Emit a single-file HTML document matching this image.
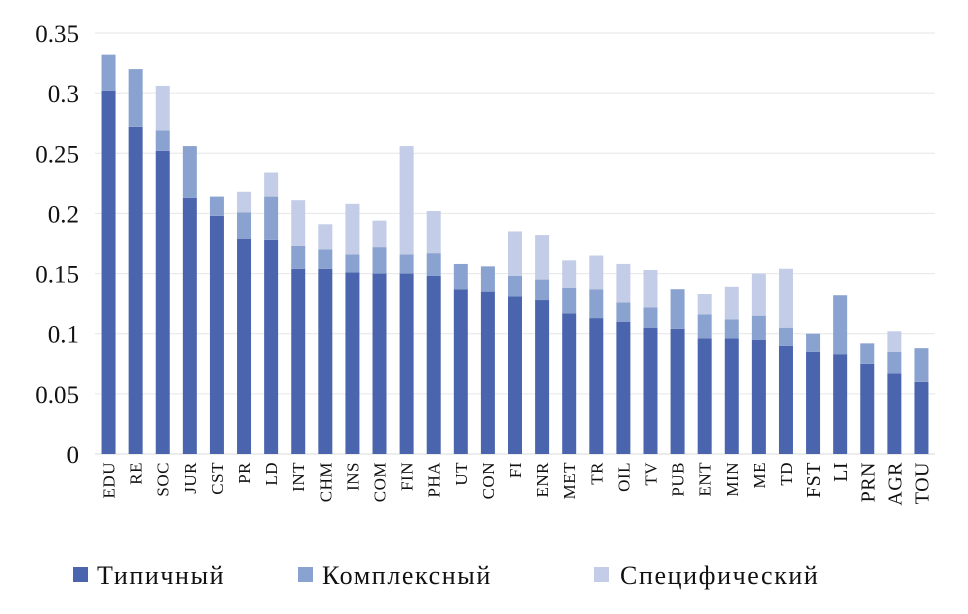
<!DOCTYPE html>
<html><head><meta charset="utf-8"><style>
body{margin:0;background:#fff;}
svg text{font-family:"Liberation Serif","DejaVu Serif",serif;fill:#111;}
</style></head><body>
<svg id="chart" width="968" height="609" xmlns="http://www.w3.org/2000/svg">
<g id="grid"></g>
<g id="yticks"></g>
<g id="bars"></g>
<g id="xticks"></g>
<g id="legend">
<rect x="73" y="567" width="15" height="15" fill="#4a65ad"/>
<text x="97" y="584" font-size="26" letter-spacing="1.6">Типичный</text>
<rect x="298" y="567" width="15" height="15" fill="#8aa2cf"/>
<text x="322" y="584" font-size="26" letter-spacing="1.6">Комплексный</text>
<rect x="594" y="567" width="15" height="15" fill="#c3cde7"/>
<text x="620" y="584" font-size="26" letter-spacing="1.6">Специфический</text>
</g>
</svg>
<script>
const categories=["EDU","RE","SOC","JUR","CST","PR","LD","INT","CHM","INS","COM","FIN","PHA","UT","CON","FI","ENR","MET","TR","OIL","TV","PUB","ENT","MIN","ME","TD","FST","LI","PRN","AGR","TOU"];
const typical=[0.302,0.272,0.252,0.213,0.198,0.179,0.178,0.154,0.154,0.151,0.150,0.150,0.148,0.137,0.135,0.131,0.128,0.117,0.113,0.110,0.105,0.104,0.096,0.096,0.095,0.090,0.085,0.083,0.075,0.067,0.060];
const complex=[0.030,0.048,0.017,0.043,0.016,0.022,0.036,0.019,0.016,0.015,0.022,0.016,0.019,0.021,0.021,0.017,0.017,0.021,0.024,0.016,0.017,0.033,0.020,0.016,0.020,0.015,0.015,0.049,0.017,0.018,0.028];
const specific=[0,0,0.037,0,0,0.017,0.020,0.038,0.021,0.042,0.022,0.090,0.035,0,0,0.037,0.037,0.023,0.028,0.032,0.031,0,0.017,0.027,0.035,0.049,0,0,0,0.017,0];
const yTicks=[0,0.05,0.1,0.15,0.2,0.25,0.3,0.35];
const yTickLabels=["0","0.05","0.1","0.15","0.2","0.25","0.3","0.35"];
const NS="http://www.w3.org/2000/svg";
const L=95,R=935,Y0=454,Y1=33,YMAX=0.35;
const y=v=>Y0-(v/YMAX)*(Y0-Y1);
const bw=(R-L)/categories.length;
const xc=i=>L+bw*(i+0.5);
function mk(t,a,p){const e=document.createElementNS(NS,t);for(const k in a)e.setAttribute(k,a[k]);p.appendChild(e);return e;}
const grid=document.getElementById('grid'),yt=document.getElementById('yticks'),bars=document.getElementById('bars'),xt=document.getElementById('xticks');
yTicks.forEach((v,i)=>{
 const l=mk('line',{x1:L,x2:R,y1:y(v),y2:y(v),stroke:i===0?'#d9d9d9':'#e6e6e6','stroke-width':1},grid);
 
 
 const t=mk('text',{x:79,y:y(v)+9,'font-size':25,'text-anchor':'end'},yt);
 t.textContent=yTickLabels[i];
 
 
});
const cols=['#4a65ad','#8aa2cf','#c3cde7'];
const names=['typical','complex','specific'];
categories.forEach((c,i)=>{
 let base=0;
 [typical[i],complex[i],specific[i]].forEach((v,s)=>{
  if(v>0){
   const r=mk('rect',{x:xc(i)-7,width:14,y:y(base+v),height:y(base)-y(base+v),fill:cols[s]},bars);
   
   
  }
  base+=v;
 });
 const big=i>=26;
 const t=mk('text',{x:0,y:0,'font-size':big?20:17,'letter-spacing':0.5,'text-anchor':'end',transform:`translate(${xc(i)+(big?7:6)},462) rotate(-90)`},xt);
 t.textContent=c;
 
 
});
</script>
</body></html>
